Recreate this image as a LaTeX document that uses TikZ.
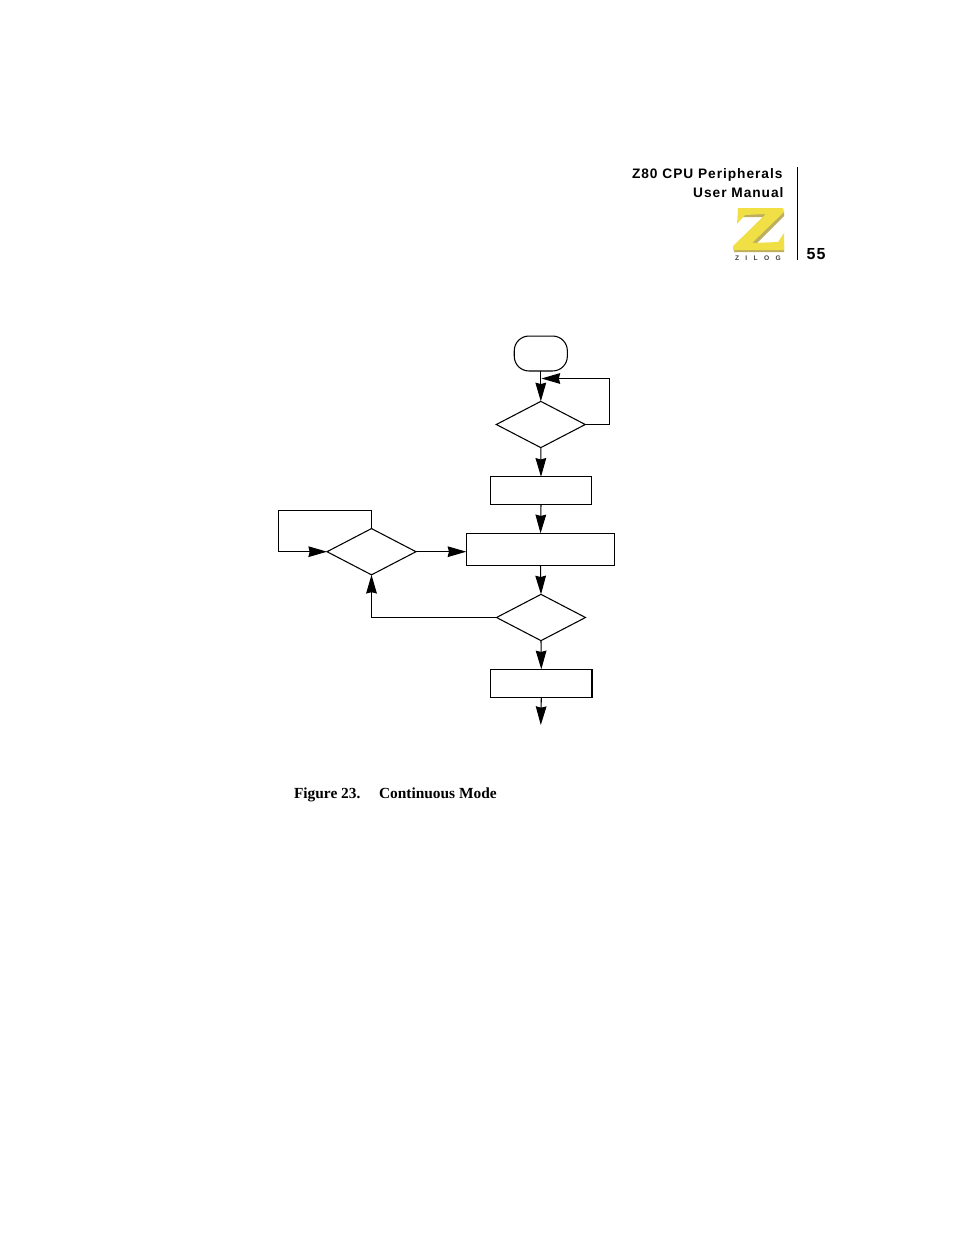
\documentclass[tikz,border=0pt]{standalone}
\usepackage{fontspec}
\setmainfont{Liberation Serif}
\newfontfamily\headfont[LetterSpace=7]{Liberation Sans}
\newfontfamily\logofont[LetterSpace=95]{Liberation Sans}
\usetikzlibrary{arrows.meta,shapes.geometric}
\definecolor{zyellow}{RGB}{240,224,70}
\definecolor{zshade}{RGB}{190,175,95}
\tikzset{
  x=0.75pt,y=-0.75pt,
  every node/.style={inner sep=0pt,outer sep=0pt},
  line/.style={draw=black,line width=0.8pt},
  flow/.style={line,-{Stealth[length=14pt,width=8pt,inset=1pt]}},
  procbox/.style={line,rectangle},
  decide/.style={line,diamond,minimum width=66.7pt,minimum height=34.7pt},
  terminal/.style={line,rectangle,rounded corners=11pt,minimum width=39.8pt,minimum height=26.2pt},
  head/.style={font=\headfont\bfseries\fontsize{10.3pt}{12pt}\selectfont,anchor=base east},
  caption/.style={font=\bfseries\fontsize{11.55pt}{13pt}\selectfont,anchor=base west},
}
\begin{document}
\begin{tikzpicture}
\useasboundingbox (0,0) rectangle (954,1235);
% header
\node[head] (h1) at (782.5,178) {Z80 CPU Peripherals};
\node[head] (h2) at (783.5,197) {User Manual};
\node[font=\headfont\bfseries\fontsize{12pt}{14pt}\selectfont,anchor=base west] (pg) at (806.5,259) {55};
\draw[line width=0.8pt] (797.5,167) -- (797.5,260);
% logo
\fill[zshade] (741,211) -- (784,211) -- (784,216) -- (755,245) -- (784,245) -- (784,252) -- (734,252) -- (734,246) -- (763,217) -- (741,217) -- cycle;
\fill[zyellow] (738,208) -- (783,208) -- (784,212) -- (752,243) -- (778,242) -- (784,233) -- (784,250) -- (733,250) -- (733,246) -- (766,214) -- (745,215) -- (737,224) -- cycle;
\node[font=\logofont\bfseries\fontsize{5pt}{6pt}\selectfont,text=black!75,anchor=base west] (logo) at (735,260) {ZILOG};
% flowchart
\node[terminal] (start) at (540.8,353.5) {};
\node[decide] (d1) at (540.8,424.5) {};
\node[procbox,minimum width=75.4pt,minimum height=20.6pt] (b1) at (541,490.5) {};
\node[procbox,minimum width=111.3pt,minimum height=24pt] (b2) at (540.5,549.3) {};
\node[decide] (d2) at (371.5,551.7) {};
\node[decide] (d3) at (541,617.5) {};
\node[procbox,minimum width=76.2pt,minimum height=21pt] (b3) at (541.3,683.3) {};
\draw[line width=1.1pt] (b3.north east) -- (b3.south east);
\coordinate (end) at (540.8,725);
\coordinate (loopA) at (609.5,378.5);
\coordinate (loopB) at (278.5,510.5);

\draw[flow] (start.south) -- (d1.north);
\draw[flow] (d1.east) -| (loopA) -- (541.5,378.5);
\draw[flow] (d1.south) -- (b1.north);
\draw[flow] (b1.south) -- (b2.north);
\draw[flow] (b2.south) -- (d3.north);
\draw[flow] (d3.south) -- (b3.north);
\draw[flow] (b3.south) -- (end);
\draw[flow] (d3.west) -| (d2.south);
\draw[flow] (d2.east) -- (d2.east -| b2.west);
\draw[flow] (d2.north) |- (loopB) |- (d2.west);

% caption
\node[caption] (cap1) at (294,798) {Figure 23.};
\node[caption] (cap2) at (379,798) {Continuous Mode};
\end{tikzpicture}
\end{document}
